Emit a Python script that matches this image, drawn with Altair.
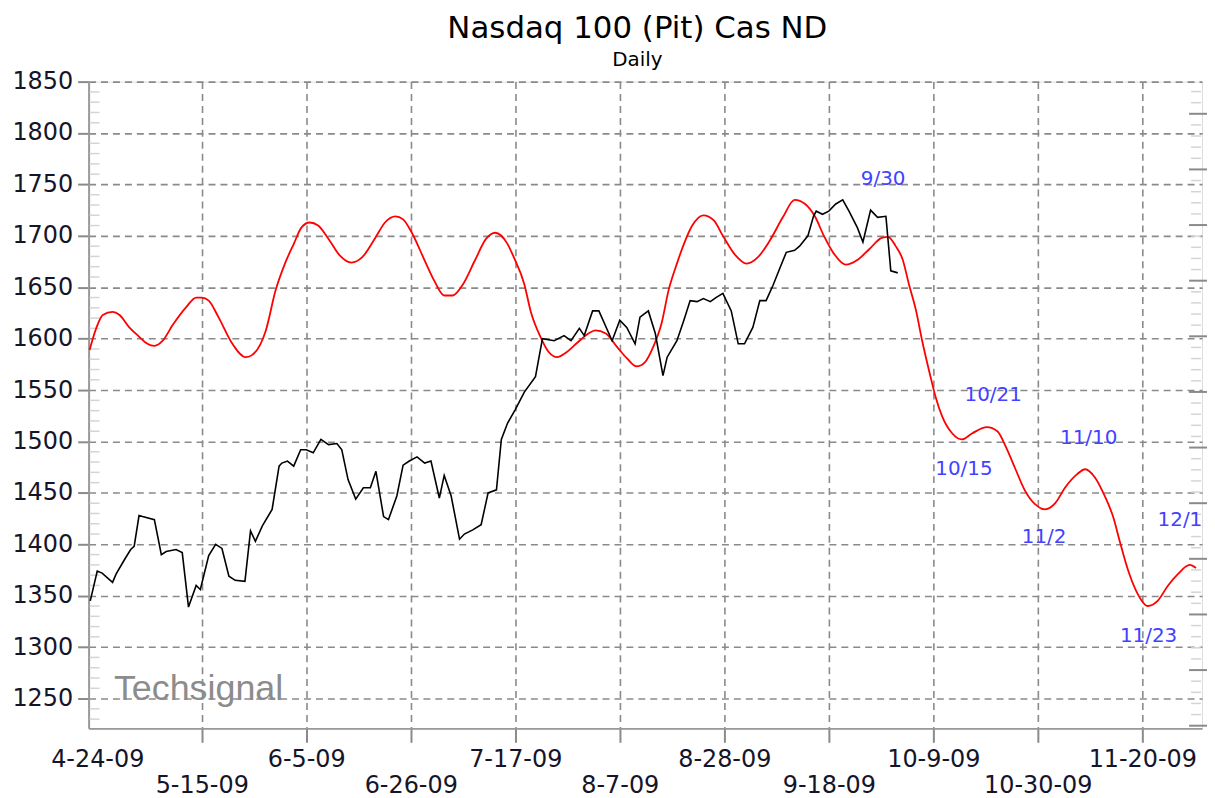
import json
import altair as alt
import pandas as pd

TITLE = "Nasdaq 100 (Pit) Cas ND"
SUBTITLE = "Daily"

# x axis: bar index (trading days since 4-24-09); labels every 15 bars
tick_bars = [0, 15, 30, 45, 60, 75, 90, 105, 120, 135, 150]
tick_labels = ["4-24-09", "5-15-09", "6-5-09", "6-26-09", "7-17-09", "8-7-09",
               "8-28-09", "9-18-09", "10-9-09", "10-30-09", "11-20-09"]
y_ticks = [1250, 1300, 1350, 1400, 1450, 1500, 1550, 1600, 1650, 1700, 1750, 1800, 1850]

# price (black)
black_i = [-1.0, 0.0, 0.7, 2.2, 2.7, 3.9, 4.8, 5.3, 6.0, 6.5, 8.2, 9.2, 9.9, 11.3, 12.2, 13.1,
           14.2, 14.8, 16.0, 17.0, 17.9, 18.9, 19.8, 21.2, 22.0, 22.7, 23.7, 25.1, 26.1, 26.5,
           27.3, 28.2, 29.2, 30.0, 31.0, 32.1, 33.2, 34.4, 35.1, 36.0, 37.1, 38.2, 39.2, 40.0,
           41.1, 41.8, 43.0, 43.9, 44.8, 45.9, 47.0, 47.9, 49.1, 49.8, 50.8, 52.0, 52.7, 53.9,
           55.1, 56.1, 57.3, 58.0, 58.9, 60.0, 61.3, 62.9, 63.9, 65.6, 67.0, 68.0, 69.2, 69.9,
           71.1, 72.0, 73.9, 75.0, 76.0, 77.2, 77.9, 79.1, 80.1, 81.2, 81.8, 83.2, 84.2, 85.1,
           86.1, 87.0, 88.0, 88.8, 89.8, 91.0, 92.0, 92.9, 94.1, 95.1, 96.0, 97.0, 98.0, 98.9,
           100.1, 100.8, 102.0, 102.8, 103.2, 104.1, 105.0, 106.0, 107.0, 107.9, 109.1, 109.9,
           111.0, 112.0, 113.2, 113.9, 114.9]
black_v = [1345, 1374, 1372, 1363, 1371, 1385, 1395, 1398, 1428, 1427, 1424, 1390, 1393, 1395, 1392, 1339,
           1360, 1356, 1389, 1400, 1396, 1369, 1365, 1364, 1413, 1403, 1418, 1434, 1476, 1479,
           1481, 1476, 1492, 1492, 1489, 1502, 1497, 1498, 1492, 1463, 1444, 1455, 1455, 1471,
           1427, 1424, 1447, 1477, 1481, 1485, 1479, 1481, 1445, 1467, 1447, 1405, 1410, 1414,
           1419, 1450, 1453, 1502, 1518, 1531, 1548, 1563, 1600, 1598, 1603, 1598, 1610, 1603,
           1627, 1627, 1598, 1618, 1611, 1595, 1621, 1627, 1605, 1564, 1582, 1598, 1618, 1637,
           1636, 1639, 1636, 1640, 1644, 1627, 1595, 1595, 1611, 1637, 1637, 1652, 1669, 1684,
           1686, 1690, 1700, 1719, 1724, 1721, 1724, 1731, 1735, 1724, 1708, 1694,
           1725, 1718, 1719, 1666, 1664]

# cycle forecast (red)
red_i = [-1.1, -0.1, 0.8, 2.2, 3.2, 4.6, 6.0, 7.2, 8.2, 9.4, 10.8, 12.8, 14.2, 15.0, 16.0, 17.4,
         19.4, 21.3, 22.2, 24.2, 25.6, 27.0, 28.2, 29.3, 30.5, 31.7, 33.2, 34.8, 36.5, 38.0,
         39.9, 41.3, 42.8, 43.9, 45.0, 47.0, 48.4, 49.8, 51.0, 52.5, 54.2, 55.8, 57.1, 58.9,
         59.8, 61.3, 62.2, 63.6, 64.8, 66.0, 67.2, 68.9, 70.5, 71.5, 73.0, 74.6, 76.0, 77.4,
         78.6, 79.8, 81.0, 82.0, 83.2, 84.2, 85.4, 87.0, 88.5, 89.8, 91.5, 93.2, 94.8, 96.5,
         98.4, 100.1, 101.6, 103.0, 104.3, 105.8, 107.4, 109.2, 110.8, 112.6, 113.5, 114.6,
         115.6, 116.5, 117.5, 118.4, 119.6, 120.3, 121.3, 122.7, 124.1, 125.6, 127.7, 129.2,
         130.4, 131.8, 133.1, 134.6, 136.0, 137.5, 138.9, 140.6, 141.8, 143.2, 144.6, 145.8,
         146.8, 147.9, 149.1, 150.8, 152.2, 153.7, 155.1, 156.8, 157.7]
red_v = [1589, 1611, 1623, 1626, 1623, 1611, 1602, 1595, 1593, 1598, 1613, 1631, 1640, 1640, 1637, 1621,
         1595, 1582, 1584, 1608, 1647, 1674, 1692, 1708, 1713, 1710, 1697, 1681, 1674, 1679,
         1698, 1713, 1719, 1716, 1705, 1676, 1656, 1642, 1642, 1653, 1676, 1697, 1703, 1692,
         1679, 1653, 1627, 1602, 1587, 1582, 1586, 1596, 1605, 1608, 1605, 1592, 1581, 1573,
         1577, 1592, 1615, 1647, 1673, 1692, 1710, 1720, 1715, 1700, 1682, 1673, 1679, 1695,
         1718, 1735, 1731, 1719, 1700, 1682, 1672, 1677, 1687, 1698, 1699, 1690,
         1677, 1653, 1628, 1598, 1563, 1544, 1524, 1508, 1502, 1508, 1514, 1510,
         1495, 1473, 1453, 1439, 1434, 1440, 1455, 1468, 1473, 1465, 1447, 1427,
         1402, 1376, 1355, 1340, 1345, 1360, 1371, 1380, 1377]

note_text = ["9/30", "10/15", "10/21", "11/2", "11/10", "11/23", "12/1"]
note_i = [112.8, 124.4, 128.6, 135.9, 142.3, 150.9, 155.4]
note_v = [1755, 1473, 1545, 1407, 1503, 1311, 1424]

WATERMARK = "Techsignal"
wm_i = [2.4]
wm_v = [1249]

XDOM = [-1.24, 158.57]
YDOM = [1221, 1850]
xs = alt.Scale(domain=XDOM, nice=False, zero=False)
ys = alt.Scale(domain=YDOM, nice=False, zero=False)

lbl = json.dumps(tick_labels)
label_expr = (f"(round(datum.value/15) % 2 == 1) ? ['', {lbl}[round(datum.value/15)]] "
              f": {lbl}[round(datum.value/15)]")
hide_first = {"condition": {"test": "datum.value < 1", "value": 0}, "value": 1}

x_axis = alt.Axis(values=tick_bars, labelExpr=label_expr, title=None, grid=True,
                  gridDash=[7, 5], gridColor="#8a8a8a", gridWidth=1.6, gridOpacity=hide_first,
                  tickSize=14, tickColor="#8a8a8a", tickWidth=2, tickOpacity=hide_first,
                  domainColor="#999999", domainWidth=2,
                  labelFont="DejaVu Sans", labelFontSize=24, labelColor="#15152a",
                  labelPadding=5, labelLineHeight=26, labelOverlap=False,
                  labelFlush=False, labelBaseline="top")
y_axis = alt.Axis(values=y_ticks, format="d", title=None, grid=True,
                  gridDash=[7, 5], gridColor="#8a8a8a", gridWidth=1.6,
                  tickSize=11, tickColor="#8a8a8a", tickWidth=2,
                  domainColor="#999999", domainWidth=2,
                  labelFont="DejaVu Sans", labelFontSize=24, labelColor="#15152a",
                  labelPadding=5, labelOverlap=False, labelFlush=False)

red_df = pd.DataFrame({"i": red_i, "v": red_v})
black_df = pd.DataFrame({"i": black_i, "v": black_v})
note_df = pd.DataFrame({"i": note_i, "v": note_v, "t": note_text})
wm_df = pd.DataFrame({"i": wm_i, "v": wm_v, "t": [WATERMARK]})

minor_left = pd.DataFrame({"v": [v for v in range(1230, 1850, 10) if v % 50 != 0]})
right_major_vals = [1818.7 - 54.1 * k for k in range(12)]
right_minor_vals = [1818.7 + 10.82 * 2 - 10.82 * k for k in range(60)
                    if k % 5 != 2 and YDOM[0] < 1818.7 + 10.82 * 2 - 10.82 * k < YDOM[1]]
right_major = pd.DataFrame({"v": right_major_vals})
right_minor = pd.DataFrame({"v": right_minor_vals})

red = alt.Chart(red_df).mark_line(color="#ff0000", strokeWidth=1.8, interpolate="monotone").encode(
    x=alt.X("i:Q", scale=xs, axis=x_axis),
    y=alt.Y("v:Q", scale=ys, axis=y_axis),
)
black = alt.Chart(black_df).mark_line(color="#000000", strokeWidth=1.6).encode(
    x=alt.X("i:Q", scale=xs),
    y=alt.Y("v:Q", scale=ys),
)
notes = alt.Chart(note_df).mark_text(font="DejaVu Sans", fontSize=20, color="#4242ff",
                                     align="center", baseline="middle").encode(
    x=alt.X("i:Q", scale=xs),
    y=alt.Y("v:Q", scale=ys),
    text="t:N",
)
wm = alt.Chart(wm_df).mark_text(font="Liberation Sans", fontSize=36, color="#8c8c8c",
                                align="left", baseline="alphabetic").encode(
    x=alt.X("i:Q", scale=xs),
    y=alt.Y("v:Q", scale=ys),
    text="t:N",
)
lminor = alt.Chart(minor_left).mark_rule(color="#d4d4d4", strokeWidth=1.5).encode(
    y=alt.Y("v:Q", scale=ys), x=alt.value(1), x2=alt.value(11))
rmajor = alt.Chart(right_major).mark_rule(color="#8a8a8a", strokeWidth=2).encode(
    y=alt.Y("v:Q", scale=ys), x=alt.value(1106), x2=alt.value(1126))
rminor = alt.Chart(right_minor).mark_rule(color="#d4d4d4", strokeWidth=1.5).encode(
    y=alt.Y("v:Q", scale=ys), x=alt.value(1108), x2=alt.value(1118))

chart = alt.layer(lminor, rminor, rmajor, red, black, notes, wm).properties(
    width=1119, height=650,
    padding={"left": 81, "top": 72, "right": 5, "bottom": 70},
    autosize=alt.AutoSizeParams(type="none"),
    title=alt.TitleParams(text=TITLE, subtitle=SUBTITLE, anchor="middle", dx=-8,
                          font="DejaVu Sans", fontSize=31, fontWeight="normal", color="#000000",
                          subtitleFont="DejaVu Sans", subtitleFontSize=20, subtitleColor="#000000",
                          subtitlePadding=5, offset=-1),
).configure_view(stroke="#999999", strokeWidth=2).configure(background="#ffffff")

chart.save("out.html", embed_options={"renderer": "svg", "actions": False})
